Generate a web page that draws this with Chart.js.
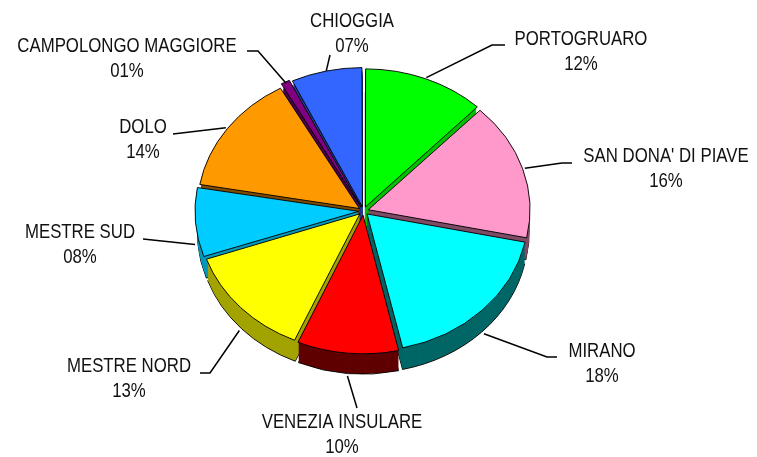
<!DOCTYPE html>
<html>
<head>
<meta charset="utf-8">
<script src="https://cdn.jsdelivr.net/npm/chart.js@4.4.1/dist/chart.umd.min.js"></script>
<style>
  html, body { margin: 0; padding: 0; background: #fff; }
  #wrap { width: 757px; height: 457px; }
</style>
</head>
<body>
<div id="wrap"><canvas id="pie-chart" width="757" height="457"></canvas></div>
<script>
// Dati
const categories = ["PORTOGRUARO", "SAN DONA' DI PIAVE", "MIRANO", "VENEZIA INSULARE", "MESTRE NORD",
    "MESTRE SUD", "DOLO", "CAMPOLONGO MAGGIORE", "CHIOGGIA"];
const shares = [12, 16, 18, 10, 13, 8, 14, 1, 7];

// Colori (faccia superiore / lato)
const topColors = ["#00FF00", "#FF99CC", "#00FFFF", "#FF0000", "#FFFF00", "#00CCFF", "#FF9900", "#800080", "#3366FF"];
const sideColors = ["#00C000", "#7F4C66", "#006666", "#600000", "#A3A300", "#0099BB", "#7F4C00", "#4C004C", "#1F3D99"];

// Posizione etichette: centro testo / prima linea di base, gomito e fine della linea guida
const labelLayout = [
    { tx: 581, ty: 45, ex: 492, ey: 45, lx: 505, ly: 45 },
    { tx: 666, ty: 162, ex: 562, ey: 163, lx: 572, ly: 163 },
    { tx: 602, ty: 357, ex: 547, ey: 357, lx: 557, ly: 357 },
    { tx: 342, ty: 428, ex: 357, ey: 408, lx: 357, ly: 408 },
    { tx: 129, ty: 372, ex: 210, ey: 373, lx: 200, ly: 373 },
    { tx: 80, ty: 238, ex: 143, ey: 239, lx: 143, ly: 239 },
    { tx: 143, ty: 133, ex: 173, ey: 134, lx: 173, ly: 134 },
    { tx: 127, ty: 52, ex: 258, ey: 51, lx: 247, ly: 51 },
    { tx: 352, ty: 27, ex: 330, ey: 55, lx: 330, ly: 55 }
];

const tilt = 0.85;   // schiacciamento verticale
const depth = 22;    // spessore della torta
const narrow = 0.8;  // testo stretto (tipo Arial Narrow)

const pie3d = {
    id: 'pie3d',
    beforeDatasetsDraw(chart) {
        const ctx = chart.ctx;
        const arcs = chart.getDatasetMeta(0).data;
        const cx = arcs[0].x, cy = arcs[0].y;
        const midSin = a => Math.sin((a.startAngle + a.endAngle) / 2);

        // lati, dal fondo verso l'osservatore
        const order = arcs.map((a, i) => i).sort((a, b) => midSin(arcs[a]) - midSin(arcs[b]));
        order.forEach(i => {
            const a = arcs[i];
            const mid = (a.startAngle + a.endAngle) / 2;
            const off = (a.options.offset || 0) / 4;
            const ox = Math.cos(mid) * off, oy = Math.sin(mid) * off;
            for (let k = depth; k >= 1; k--) {
                ctx.save();
                ctx.translate(cx, cy + k);
                ctx.scale(1, tilt);
                ctx.translate(-cx, -cy);
                ctx.beginPath();
                ctx.moveTo(a.x + ox, a.y + oy);
                ctx.arc(a.x + ox, a.y + oy, a.outerRadius, a.startAngle, a.endAngle);
                ctx.closePath();
                ctx.fillStyle = sideColors[i];
                ctx.fill();
                if (k === depth) {
                    ctx.strokeStyle = '#000';
                    ctx.lineWidth = 1;
                    ctx.stroke();
                }
                ctx.restore();
            }
        });

        // faccia superiore schiacciata
        ctx.save();
        ctx.translate(cx, cy);
        ctx.scale(1, tilt);
        ctx.translate(-cx, -cy);
    },
    afterDatasetsDraw(chart) {
        chart.ctx.restore();
    },
    afterDraw(chart) {
        const ctx = chart.ctx;
        const arcs = chart.getDatasetMeta(0).data;
        const total = shares.reduce((s, v) => s + v, 0);
        ctx.save();
        arcs.forEach((a, i) => {
            const mid = (a.startAngle + a.endAngle) / 2;
            const off = (a.options.offset || 0) / 4;
            const r = a.outerRadius + off + 3;
            let px = a.x + Math.cos(mid) * r;
            let py = a.y + Math.sin(mid) * r * tilt;
            if (Math.sin(mid) > 0.05) py += depth;
            const L = labelLayout[i];

            ctx.strokeStyle = '#000';
            ctx.lineWidth = 1.5;
            ctx.beginPath();
            ctx.moveTo(px, py);
            ctx.lineTo(L.ex, L.ey);
            ctx.lineTo(L.lx, L.ly);
            ctx.stroke();

            const pct = Math.round(shares[i] / total * 100);
            ctx.save();
            ctx.translate(L.tx, 0);
            ctx.scale(narrow, 1);
            ctx.fillStyle = '#111';
            ctx.font = '21px "Liberation Sans", Arial, sans-serif';
            ctx.textAlign = 'center';
            ctx.textBaseline = 'alphabetic';
            ctx.fillText(categories[i], 0, L.ty);
            ctx.fillText(String(pct).padStart(2, '0') + '%', 0, L.ty + 25);
            ctx.restore();
        });
        ctx.restore();
    }
};

new Chart(document.getElementById('pie-chart'), {
    type: 'pie',
    data: {
        labels: categories,
        datasets: [{
            data: shares,
            backgroundColor: topColors,
            borderColor: '#000',
            borderWidth: 1,
            offset: 20,
            hoverOffset: 0
        }]
    },
    options: {
        responsive: false,
        animation: false,
        events: [],
        layout: { padding: { left: 192, right: 222, top: 39.5, bottom: 74.5 } },
        plugins: {
            legend: { display: false },
            tooltip: { enabled: false }
        }
    },
    plugins: [pie3d]
});
</script>
</body>
</html>
